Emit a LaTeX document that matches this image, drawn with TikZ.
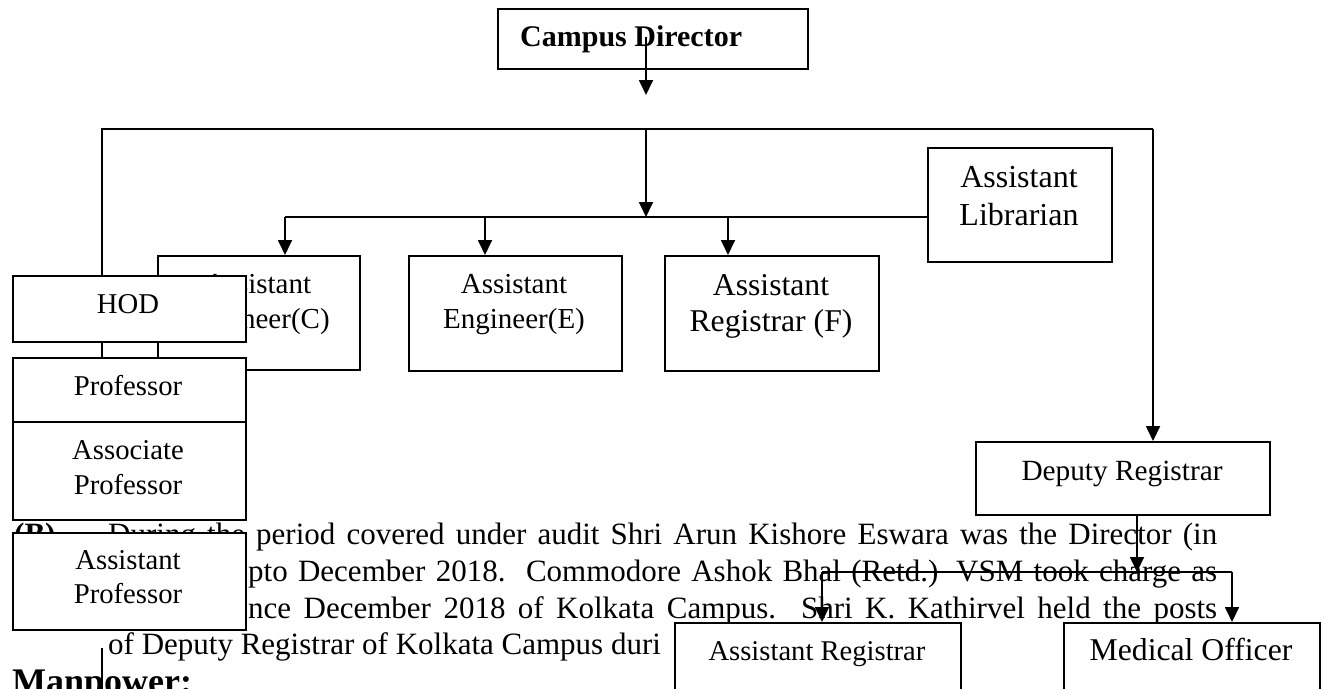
\documentclass[tikz,border=0pt]{standalone}
\usepackage{fontspec}
\setmainfont{Liberation Serif}
\usetikzlibrary{arrows.meta}
\pgfdeclarelayer{bg}
\pgfdeclarelayer{lines}
\pgfsetlayers{bg,lines,main}
\newcommand\fsz[1]{\fontsize{#1}{#1}\selectfont}
\tikzset{
  box/.style={draw, line width=1.8pt, fill=white, inner sep=0pt, anchor=north west},
  conn/.style={line width=1.8pt},
  arr/.style={conn, -{Triangle[length=15pt,width=14pt]}},
  lbl/.style={inner sep=0pt, anchor=base},
  para/.style={inner sep=0pt, anchor=base west, font=\fsz{31}},
}
\begin{document}
\begin{tikzpicture}[x=1pt,y=-1pt]
\useasboundingbox (0,0) rectangle (1321,688);
\clip (0,0) rectangle (1321,688);
\begin{pgfonlayer}{bg}
\fill[white] (0,0) rectangle (1321,688);
\node[para] (p1b) at (14,544) {\bfseries (B)};
\node[para] (p1) at (108,544) {\makebox[1109pt][s]{During the period covered under audit Shri Arun Kishore Eswara was the Director (in}};
\node[para] (p2) at (248,581) {\makebox[969pt][s]{pto December 2018.\ \ Commodore Ashok Bhal (Retd.) VSM took charge as}};
\node[para] (p3) at (248,618) {\makebox[969pt][s]{nce December 2018 of Kolkata Campus.\ \ Shri K. Kathirvel held the posts}};
\node[para] (p4) at (108,654) {of Deputy Registrar of Kolkata Campus duri};
\node[para, font=\fsz{36}\bfseries] (p5) at (12,693) {Manpower:};
\end{pgfonlayer}
% coordinates
\coordinate (d0) at (646,37);
\coordinate (d1) at (646,95);
\coordinate (tl) at (102,129);
\coordinate (tm) at (646,129);
\coordinate (tr) at (1153,129);
\coordinate (b2m) at (646,217);
\coordinate (b2l) at (285,217);
\coordinate (b2e) at (485,217);
\coordinate (b2f) at (728,217);
\coordinate (b3m) at (1137,572);
\coordinate (b3l) at (822,572);
\coordinate (b3r) at (1232,572);
\coordinate (lb0) at (102,648);
\coordinate (lb1) at (102,700);
% boxes
\node[box, minimum width=310pt, minimum height=60pt] (dir) at (497,8) {};
\node[lbl, anchor=base west, font=\fsz{30}\bfseries] (dirt) at (520,46) {Campus Director};
\node[box, minimum width=202pt, minimum height=114pt] (engC) at (157,255) {};
\node[lbl, font=\fsz{29}] (engC1) at (258,293) {Assistant};
\node[lbl, font=\fsz{29}] (engC2) at (258,328) {Engineer(C)};
\node[box, minimum width=213pt, minimum height=115pt] (engE) at (408,255) {};
\node[lbl, font=\fsz{29}] (engE1) at (514,293) {Assistant};
\node[lbl, font=\fsz{29}] (engE2) at (514,328) {Engineer(E)};
\node[box, minimum width=214pt, minimum height=115pt] (regF) at (664,255) {};
\node[lbl, font=\fsz{31.7}] (regF1) at (771,295) {Assistant};
\node[lbl, font=\fsz{31.7}] (regF2) at (771,331) {Registrar (F)};
\node[box, minimum width=184pt, minimum height=114pt] (lib) at (927,147) {};
\node[lbl, font=\fsz{32}] (lib1) at (1019,187) {Assistant};
\node[lbl, font=\fsz{32}] (lib2) at (1019,225) {Librarian};
\node[box, minimum width=294pt, minimum height=73pt] (dep) at (975,441) {};
\node[lbl, font=\fsz{29.3}] (dept) at (1122,480) {Deputy Registrar};
\node[box, minimum width=286pt, minimum height=100pt] (areg) at (674,622) {};
\node[lbl, font=\fsz{28.6}] (aregt) at (817,660) {Assistant Registrar};
\node[box, minimum width=256pt, minimum height=100pt] (med) at (1063,622) {};
\node[lbl, font=\fsz{31.7}] (medt) at (1191,660) {Medical Officer};
% left column (front)
\node[box, minimum width=233pt, minimum height=66pt] (hod) at (12,275) {};
\node[lbl, font=\fsz{28.7}] (hodt) at (128,313) {HOD};
\node[box, minimum width=233pt, minimum height=64pt] (prof) at (12,357) {};
\node[lbl, font=\fsz{28.7}] (proft) at (128,395) {Professor};
\node[box, minimum width=233pt, minimum height=98pt] (assoc) at (12,421) {};
\node[lbl, font=\fsz{28.7}] (assoc1) at (128,459) {Associate};
\node[lbl, font=\fsz{28.7}] (assoc2) at (128,494) {Professor};
\node[box, minimum width=233pt, minimum height=97pt] (asstp) at (12,532) {};
\node[lbl, font=\fsz{28.7}] (asstp1) at (128,569) {Assistant};
\node[lbl, font=\fsz{28.7}] (asstp2) at (128,603) {Professor};
% connector over director text
\draw[arr] (d0) -- (d1);
% connectors
\begin{pgfonlayer}{lines}
\draw[conn] (hod.north -| tl) -- (tl) -- (tr);
\draw[arr] (tr) -- (dep.north -| tr);
\draw[arr] (tm) -- (b2m);
\draw[conn] (b2l) -- (b2l -| lib.west);
\draw[arr] (b2l) -- (b2l |- engC.north);
\draw[arr] (b2e) -- (b2e |- engE.north);
\draw[arr] (b2f) -- (b2f |- regF.north);
\draw[arr] (dep.south -| b3m) -- (b3m);
\draw[conn] (b3l) -- (b3r);
\draw[arr] (b3l) -- (b3l |- areg.north);
\draw[arr] (b3r) -- (b3r |- med.north);
\draw[conn] (hod.south -| tl) -- (prof.north -| tl);
\draw[conn] (lb0) -- (lb1);
\end{pgfonlayer}
\end{tikzpicture}
\end{document}
